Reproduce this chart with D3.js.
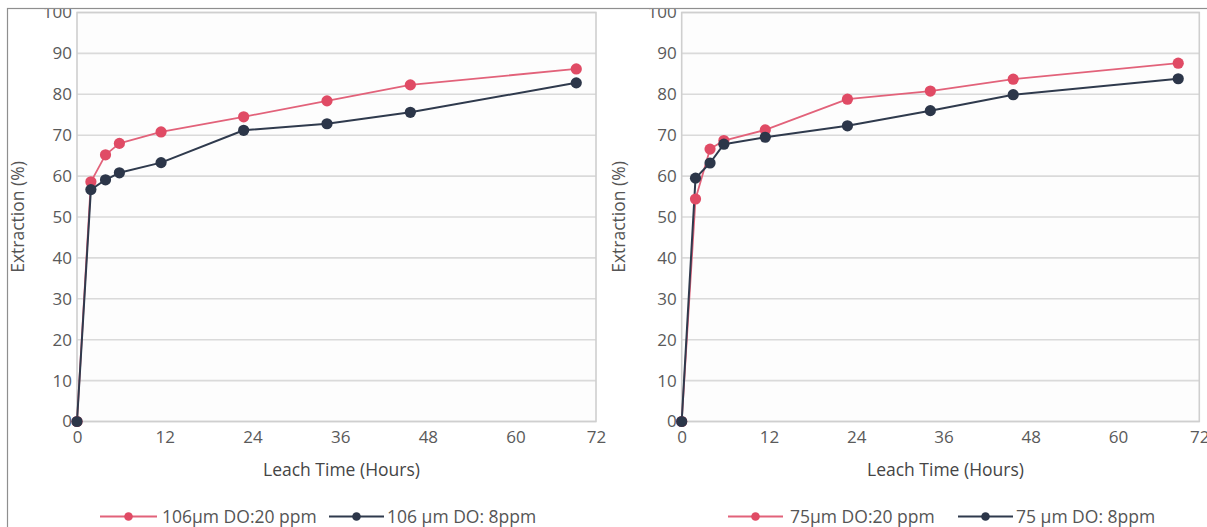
<!DOCTYPE html>
<html>
<head>
<meta charset="utf-8">
<script src="https://cdn.jsdelivr.net/npm/d3@7"></script>
<style>
  html, body { margin: 0; padding: 0; background: #ffffff; }
  svg { display: block; }
  text { font-family: "Open Sans", "Liberation Sans", sans-serif; }
</style>
</head>
<body>
<svg id="chart" width="1207" height="527"></svg>
<script>
// ---------------- data ----------------
const hours = [0, 1.9, 3.9, 5.8, 11.5, 22.8, 34.2, 45.6, 68.3];
const xTicks = [0, 12, 24, 36, 48, 60, 72];
const yTicks = [0, 10, 20, 30, 40, 50, 60, 70, 80, 90, 100];

const left20ppm = [0, 58.6, 65.2, 68.0, 70.8, 74.5, 78.4, 82.3, 86.2];
const left8ppm  = [0, 56.7, 59.1, 60.8, 63.3, 71.2, 72.8, 75.6, 82.8];
const right20ppm = [0, 54.4, 66.6, 68.7, 71.3, 78.8, 80.8, 83.7, 87.6];
const right8ppm  = [0, 59.5, 63.2, 67.8, 69.5, 72.3, 76.0, 79.9, 83.8];

const leftNames = ["106\u00b5m DO:20 ppm", "106 \u00b5m DO: 8ppm"];
const rightNames = ["75\u00b5m DO:20 ppm", "75 \u00b5m DO: 8ppm"];
const xTitle = "Leach Time (Hours)";
const yTitle = "Extraction (%)";

// ---------------- styles ----------------
const RED_LINE = "#e2627a", RED_DOT = "#e04b65";
const DARK_LINE = "#2f3a4d", DARK_DOT = "#2c3649";

const svg = d3.select("#chart");

svg.append("defs").append("clipPath").attr("id", "frameClip")
  .append("rect").attr("x", 8).attr("y", 9).attr("width", 1300).attr("height", 600);

const root = svg.append("g").attr("clip-path", "url(#frameClip)");

// outer frame
svg.append("rect").attr("x", 7.5).attr("y", 8.5).attr("width", 1250).attr("height", 560)
  .attr("fill", "none").attr("stroke", "#8f8f8f").attr("stroke-width", 1.2);

const panels = [
  { left: 77, right: 596, xMax: 71.0, s20: left20ppm, s8: left8ppm, names: leftNames,
    yTitleX: 17, legend: [{l0: 100, l1: 157, tx: 162}, {l0: 329, l1: 384, tx: 387}] },
  { left: 681.7, right: 1199.3, xMax: 71.2, s20: right20ppm, s8: right8ppm, names: rightNames,
    yTitleX: 618, legend: [{l0: 728, l1: 783, tx: 790}, {l0: 958, l1: 1013, tx: 1016}] }
];
const plotTop = 12.5, plotBottom = 421.5;

panels.forEach(p => {
  const g = root.append("g");
  const x = d3.scaleLinear().domain([0, p.xMax]).range([p.left, p.right]).clamp(true);
  const y = d3.scaleLinear().domain([0, 100]).range([plotBottom, plotTop]);

  // plot background
  g.append("rect").attr("x", p.left).attr("y", plotTop).attr("width", p.right - p.left)
    .attr("height", plotBottom - plotTop).attr("fill", "#fdfdfd");

  // gridlines
  g.append("g").selectAll("line").data(yTicks).join("line")
    .attr("x1", p.left).attr("x2", p.right)
    .attr("y1", d => y(d)).attr("y2", d => y(d))
    .attr("stroke", "#dadada").attr("stroke-width", 1.6);

  // plot border
  g.append("rect").attr("x", p.left).attr("y", plotTop).attr("width", p.right - p.left)
    .attr("height", plotBottom - plotTop).attr("fill", "none")
    .attr("stroke", "#cfcfcf").attr("stroke-width", 1.6);

  // axes
  const yAxis = d3.axisLeft(y).tickValues(yTicks).tickSize(0).tickPadding(5);
  const ya = g.append("g").attr("transform", `translate(${p.left},0)`).call(yAxis);
  ya.select(".domain").remove();
  ya.selectAll("text").attr("font-size", 17).attr("fill", "#5a5a5a")
    .attr("font-family", "'Open Sans', sans-serif");

  const xAxis = d3.axisBottom(x).tickValues(xTicks).tickSize(0).tickPadding(9);
  const xa = g.append("g").attr("transform", `translate(0,${plotBottom})`).call(xAxis);
  xa.select(".domain").remove();
  xa.selectAll("text").attr("font-size", 17).attr("fill", "#5a5a5a")
    .attr("font-family", "'Open Sans', sans-serif");

  // titles
  g.append("text").attr("x", (p.left + p.right) / 2 + 5).attr("y", 476)
    .attr("text-anchor", "middle").attr("font-size", 17.5).attr("fill", "#454545")
    .text(xTitle);
  g.append("text").attr("transform", `translate(${p.yTitleX},217) rotate(-90)`)
    .attr("text-anchor", "middle").attr("dominant-baseline", "central")
    .attr("font-size", 17.5).attr("fill", "#555").text(yTitle);

  // series (red drawn first so dark sits on top at the origin)
  const series = [
    { vals: p.s20, line: RED_LINE, dot: RED_DOT, w: 1.8 },
    { vals: p.s8, line: DARK_LINE, dot: DARK_DOT, w: 2 }
  ];
  const lineGen = d3.line().x(d => x(d[0])).y(d => y(d[1]));
  series.forEach(s => {
    const pts = hours.map((h, i) => [h, s.vals[i]]);
    g.append("path").datum(pts).attr("d", lineGen).attr("fill", "none")
      .attr("stroke", s.line).attr("stroke-width", s.w).attr("stroke-linejoin", "round");
  });
  series.forEach(s => {
    const pts = hours.map((h, i) => [h, s.vals[i]]);
    g.append("g").selectAll("circle").data(pts).join("circle")
      .attr("cx", d => x(d[0])).attr("cy", d => y(d[1])).attr("r", 5.6)
      .attr("fill", s.dot);
  });

  // legend
  p.legend.forEach((L, i) => {
    const ly = 516.5;
    g.append("line").attr("x1", L.l0).attr("x2", L.l1).attr("y1", ly).attr("y2", ly)
      .attr("stroke", series[i].line).attr("stroke-width", 1.8);
    g.append("circle").attr("cx", (L.l0 + L.l1) / 2).attr("cy", ly).attr("r", 4.3)
      .attr("fill", series[i].dot);
    g.append("text").attr("x", L.tx).attr("y", 522.5).attr("font-size", 17.5)
      .attr("fill", "#555").text(p.names[i]);
  });
});
</script>
</body>
</html>
